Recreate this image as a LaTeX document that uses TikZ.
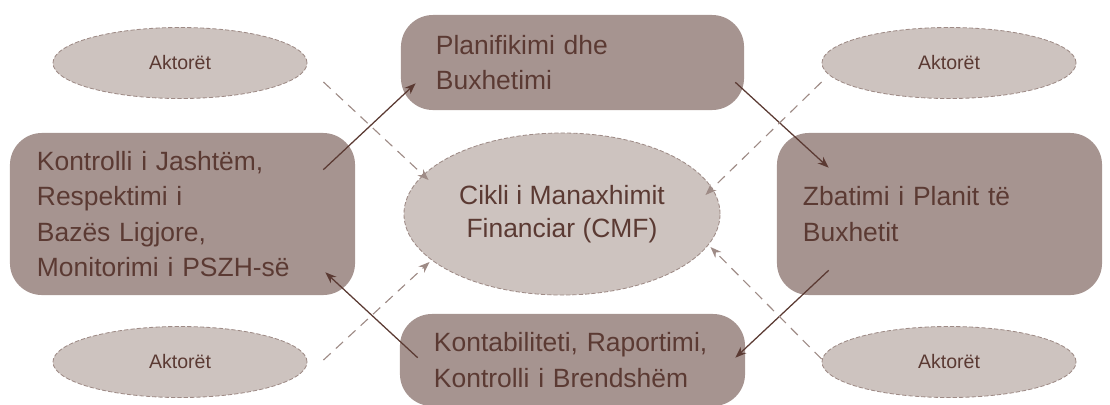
\documentclass[tikz,border=0pt]{standalone}
\usepackage{fontspec}
\setmainfont{Liberation Sans}
\usepackage{xcolor}
\usetikzlibrary{shapes.geometric,arrows.meta}
\definecolor{boxbrown}{HTML}{A69490}
\definecolor{ellgrey}{HTML}{CDC3BF}
\definecolor{textbrown}{HTML}{5B3A33}
\definecolor{dashbrown}{HTML}{9E8B86}
\tikzstyle{phasebox} = [fill=boxbrown, rectangle, rounded corners=0.8cm,
    text=textbrown, align=left, inner ysep=0pt,
    font=\fontsize{18.8}{25}\selectfont]
\tikzstyle{actorell} = [ellipse, fill=ellgrey, draw=dashbrown, line width=0.6pt,
    dash pattern=on 3pt off 1.5pt, minimum width=6.35cm, minimum height=1.775cm,
    text=textbrown, font=\fontsize{13.9}{16}\selectfont]
\tikzstyle{cycleell} = [actorell, minimum width=7.9cm, minimum height=4.05cm,
    align=center, font=\fontsize{18.8}{23.5}\selectfont]
\tikzstyle{flow} = [draw=textbrown, line width=0.9pt, -{Stealth[length=8pt,width=6pt]}]
\tikzstyle{actorflow} = [draw=dashbrown, line width=0.8pt, dash pattern=on 7pt off 5pt,
    -{Stealth[length=8pt,width=6pt]}]

\begin{document}
\begin{tikzpicture}[x=0.025cm, y=-0.025cm]
    \useasboundingbox (0,0) rectangle (1110,404);
    % the four phases
    \node [phasebox, minimum width=8.575cm, minimum height=2.375cm,
        text width=6.825cm, inner xsep=0.875cm] (plan) at (572.5,62.5)
        {Planifikimi dhe\\Buxhetimi};
    \node [phasebox, minimum width=8.625cm, minimum height=4.05cm,
        text width=7.275cm, inner xsep=0.675cm] (kontroll) at (182.5,214)
        {Kontrolli i Jashtëm,\\Respektimi i\\Bazës Ligjore,\\Monitorimi i PSZH-së};
    \node [phasebox, minimum width=8.125cm, minimum height=4.05cm,
        text width=6.825cm, inner xsep=0.65cm] (zbatim) at (939.5,214)
        {Zbatimi i Planit të\\Buxhetit};
    \node [phasebox, minimum width=8.625cm, minimum height=2.3cm,
        text width=6.925cm, inner xsep=0.85cm] (kontab) at (572.5,360)
        {Kontabiliteti, Raportimi,\\Kontrolli i Brendshëm};
    % cycle and actors
    \node [cycleell] (cmf) at (562,214) {Cikli i Manaxhimit\\Financiar (CMF)};
    \node [actorell] (akTL) at (180,63) {Aktorët};
    \node [actorell] (akTR) at (949,63) {Aktorët};
    \node [actorell] (akBL) at (180,362) {Aktorët};
    \node [actorell] (akBR) at (949,362) {Aktorët};
    % cycle arrows
    \draw [flow] ([shift={(-32,37)}]kontroll.north east) -- ([shift={(15,-27)}]plan.south west);
    \draw [flow] ([shift={(-9,-28)}]plan.south east) -- ([shift={(52,35)}]zbatim.north west);
    \draw [flow] ([shift={(52,-25)}]zbatim.south west) -- ([shift={(-10,44)}]kontab.north east);
    \draw [flow] ([shift={(18,44)}]kontab.north west) -- ([shift={(-30,-23)}]kontroll.south east);
    % actors to the cycle
    \draw [actorflow] ([shift={(16,19)}]akTL.east) -- ([shift={(25,-34)}]cmf.west);
    \draw [actorflow] ([shift={(0,19)}]akTR.west) -- ([shift={(-15,-19)}]cmf.east);
    \draw [actorflow] ([shift={(16,-2)}]akBL.east) -- ([shift={(26,48)}]cmf.west);
    \draw [actorflow] ([shift={(0,-3)}]akBR.west) -- ([shift={(-10,33)}]cmf.east);
\end{tikzpicture}
\end{document}
